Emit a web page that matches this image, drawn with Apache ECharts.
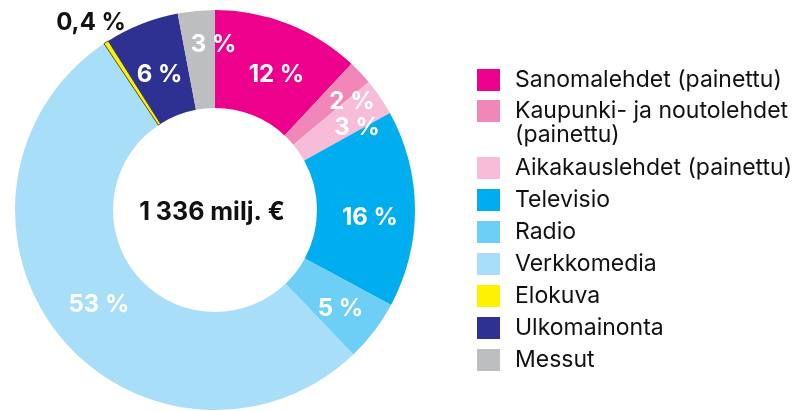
<!DOCTYPE html>
<html>
<head>
<meta charset="utf-8">
<script src="https://cdn.jsdelivr.net/npm/echarts@6/dist/echarts.min.js"></script>
<style>
  html, body { margin: 0; padding: 0; background: #fff; }
  #chart { width: 803px; height: 411px; }
</style>
</head>
<body>
<div id="chart"></div>
<script>
// Mainonnan jakauma mediaryhmittäin, osuus prosentteina
var categories = [
  "Sanomalehdet (painettu)",
  "Kaupunki- ja noutolehdet (painettu)",
  "Aikakauslehdet (painettu)",
  "Televisio",
  "Radio",
  "Verkkomedia",
  "Elokuva",
  "Ulkomainonta",
  "Messut"
];
var shares = [12, 2, 3, 16, 5, 53, 0.4, 6, 3];
var colors = ["#ec008c", "#f186b8", "#f7bdd8", "#00adef", "#6dcff6", "#a8def8", "#fff200", "#2e3192", "#bcbec0"];
var totalLabel = "1 336 milj. €";

// hand nudges for the slice labels, as in the original layout
var labelNudge = [[5, 8], [25, -2], [15, 5], [1, 9], [3, 5], [4, -2], [22, -16], [1, 8], [13, -12]];

var FONT = "Inter, 'Open Sans', sans-serif";

function fmtPct(v) {
  return String(v).replace(".", ",") + " %";
}

function legendBlock(names, top, extra) {
  var lg = {
    orient: "vertical",
    left: 477,
    top: top,
    padding: 0,
    itemWidth: 23,
    itemHeight: 22,
    itemGap: 8,
    icon: "rect",
    selectedMode: false,
    itemStyle: { borderWidth: 0 },
    data: names,
    textStyle: { fontFamily: FONT, fontSize: 23, color: "#111", lineHeight: 24, padding: [0, 0, 0, 10] }
  };
  if (extra) extra(lg);
  return lg;
}

var chart = echarts.init(document.getElementById("chart"), null, { renderer: "canvas" });

chart.setOption({
  animation: false,
  backgroundColor: "#fff",
  title: {
    text: totalLabel,
    left: 212,
    top: 200,
    padding: 0,
    textAlign: "center",
    textStyle: { fontFamily: FONT, fontSize: 25, fontWeight: 700, color: "#111" }
  },
  legend: [
    legendBlock([categories[0]], 68),
    // two-line entry: square sits next to the first line only
    legendBlock([categories[1]], 99, function (lg) {
      lg.itemHeight = 46;
      lg.icon = "path://M0,0H23V22H0Z M0,46L23,46";
      lg.formatter = function () { return "Kaupunki- ja noutolehdet\n(painettu)"; };
    }),
    legendBlock(categories.slice(2), 156)
  ],
  series: [{
    type: "pie",
    center: [215, 210],
    radius: [102, 200],
    startAngle: 90,
    clockwise: true,
    avoidLabelOverlap: false,
    minShowLabelAngle: 0,
    itemStyle: { borderWidth: 0 },
    label: {
      show: true,
      position: "inside",
      formatter: function (p) { return fmtPct(p.value); },
      fontFamily: FONT,
      fontSize: 24,
      fontWeight: 700,
      color: "#fff"
    },
    labelLine: { show: false },
    labelLayout: function (p) {
      var n = labelNudge[p.dataIndex];
      return { dx: n[0], dy: n[1], hideOverlap: false };
    },
    data: categories.map(function (name, i) {
      var item = { name: name, value: shares[i], itemStyle: { color: colors[i] } };
      if (name === "Elokuva") {
        item.itemStyle.borderColor = "#222";
        item.itemStyle.borderWidth = 0.8;
        item.label = { position: "outside", color: "#111", distanceToLabelLine: 0 };
        item.labelLine = { show: false, length: 4, length2: 0 };
      }
      return item;
    })
  }]
});
</script>
</body>
</html>
